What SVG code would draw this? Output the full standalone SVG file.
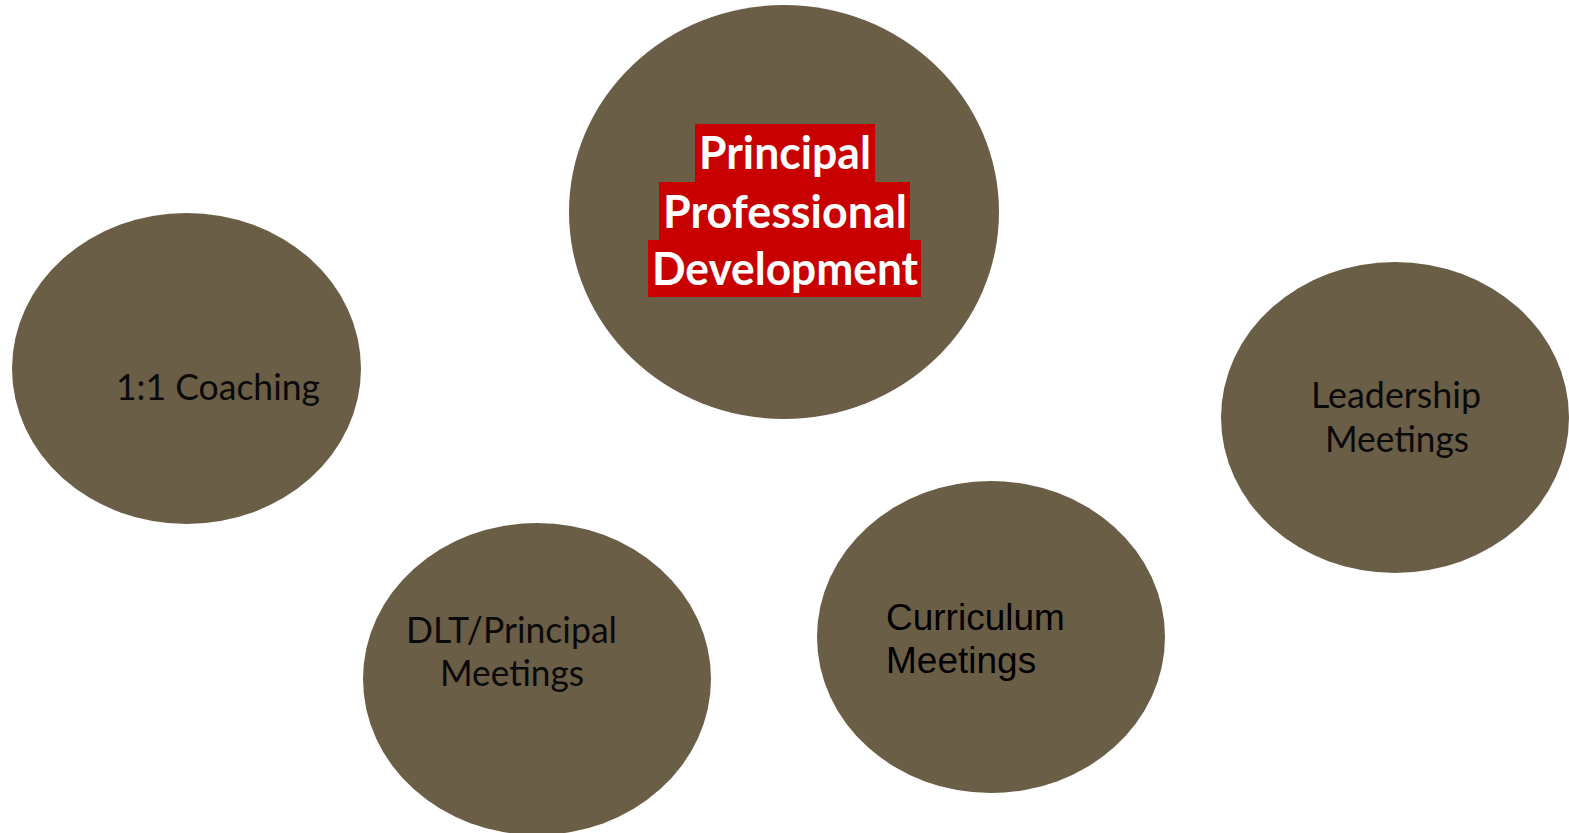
<svg xmlns="http://www.w3.org/2000/svg" width="1569" height="833" viewBox="0 0 1569 833">
<style>
.n{fill:#6b5e47}
.t{font-family:Lato,"Liberation Sans",sans-serif;font-size:37px;fill:#0a0a0a;text-anchor:middle}
.a{font-family:"Liberation Sans",Arial,sans-serif;font-size:37px;fill:#000}
.h{font-family:Lato,"Liberation Sans",sans-serif;font-weight:bold;font-size:45px;fill:#fff;text-anchor:middle}
.r{fill:#c80000}
</style>
<rect width="1569" height="833" fill="#fff"/>
<g id="connectors"></g>
<g id="ppd">
<ellipse class="n" cx="784" cy="212" rx="215" ry="207"/>
<rect class="r" x="695" y="124" width="180" height="58"/>
<rect class="r" x="659" y="182" width="251" height="58"/>
<rect class="r" x="648" y="240" width="273" height="57"/>
<text class="h" x="785" y="169" textLength="172" lengthAdjust="spacingAndGlyphs">Principal</text>
<text class="h" x="785" y="228" textLength="244" lengthAdjust="spacingAndGlyphs">Professional</text>
<text class="h" x="785" y="285" textLength="266" lengthAdjust="spacingAndGlyphs">Development</text>
</g>
<g id="coaching">
<ellipse class="n" cx="186.5" cy="368.5" rx="174.5" ry="155.5"/>
<text class="t" x="218" y="400" textLength="204" lengthAdjust="spacingAndGlyphs">1:1 Coaching</text>
</g>
<g id="dlt">
<ellipse class="n" cx="537" cy="679" rx="174" ry="156"/>
<text class="t" x="511.5" y="643" textLength="211" lengthAdjust="spacingAndGlyphs">DLT/Principal</text>
<text class="t" x="512" y="686" textLength="144" lengthAdjust="spacingAndGlyphs">Meetings</text>
</g>
<g id="curriculum">
<ellipse class="n" cx="991" cy="637" rx="174" ry="156"/>
<text class="a" x="886" y="630">Curriculum</text>
<text class="a" x="886" y="673">Meetings</text>
</g>
<g id="leadership">
<ellipse class="n" cx="1395" cy="417.5" rx="174" ry="155.5"/>
<text class="t" x="1396" y="408" textLength="170" lengthAdjust="spacingAndGlyphs">Leadership</text>
<text class="t" x="1397" y="452" textLength="144" lengthAdjust="spacingAndGlyphs">Meetings</text>
</g>
</svg>
